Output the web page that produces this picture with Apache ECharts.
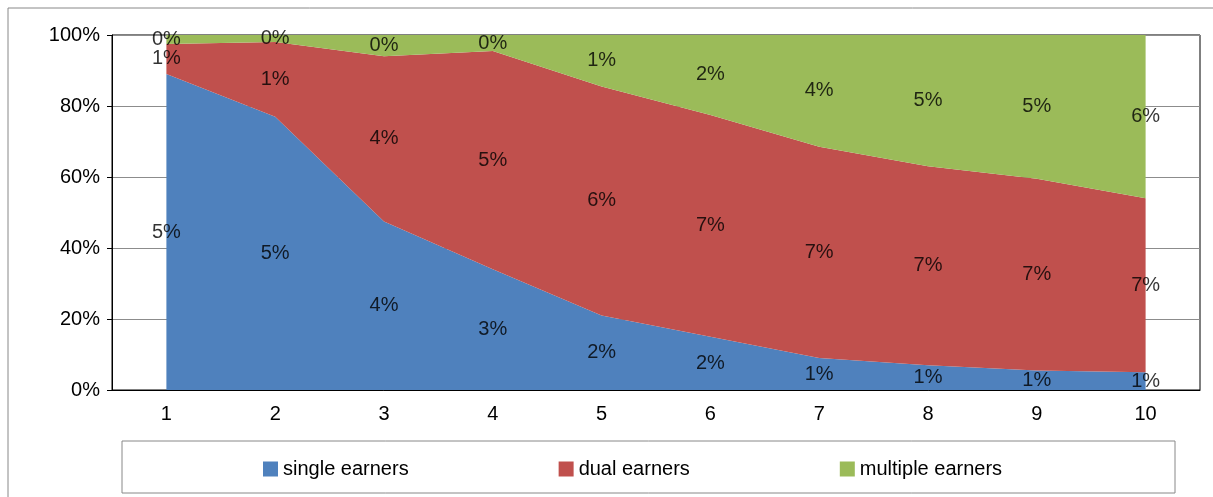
<!DOCTYPE html>
<html>
<head>
<meta charset="utf-8">
<script src="https://cdn.jsdelivr.net/npm/echarts@6/dist/echarts.min.js"></script>
<style>body{margin:0;background:#fff}</style>
</head>
<body>
<div id="main" style="width:1213px;height:497px"></div>
<script>
var categories = ['1','2','3','4','5','6','7','8','9','10'];
// shares of households (percent of 100% stack)
var single = [89, 77, 47.5, 34, 21, 15, 9, 7, 5.5, 5];
var dual = [8.5, 21, 46.5, 61.5, 64.5, 62.5, 59.5, 56, 54, 49];
var multiple = [2.5, 2, 6, 4.5, 14.5, 22.5, 31.5, 37, 40.5, 46];
// data label texts
var singleLbl = ['5%','5%','4%','3%','2%','2%','1%','1%','1%','1%'];
var dualLbl = ['1%','1%','4%','5%','6%','7%','7%','7%','7%','7%'];
var multiLbl = ['0%','0%','0%','0%','1%','2%','4%','5%','5%','6%'];

var font = 'Liberation Sans';
function mids(lower, vals) {
  return vals.map(function (v, i) { return lower[i] + v / 2; });
}
var zero = single.map(function () { return 0; });
var s1 = single;
var s2 = single.map(function (v, i) { return v + dual[i]; });
function lblSeries(name, pos, texts) {
  return {
    name: name, type: 'scatter', data: pos, symbolSize: 0, silent: true,
    label: { show: true, position: 'inside', color: '#000', fontSize: 20, fontFamily: font,
      formatter: function (p) { return texts[p.dataIndex]; } },
    z: 10
  };
}
var chart = echarts.init(document.getElementById('main'));
chart.setOption({
  animation: false,
  textStyle: { fontFamily: font },
  graphic: [{ type: 'rect', shape: { x: 8, y: 8, width: 1220, height: 500 },
    style: { fill: 'none', stroke: '#888', lineWidth: 1 } },
    { type: 'rect', shape: { x: 122, y: 441, width: 1053, height: 52 },
    style: { fill: 'none', stroke: '#888', lineWidth: 1 } }],
  grid: { left: 112, right: 13, top: 35, bottom: 107, show: true, borderColor: '#000', borderWidth: 1 },
  legend: {
    bottom: 13, left: 258, itemGap: 150, itemWidth: 15, itemHeight: 15, icon: 'rect',
    data: ['single earners', 'dual earners', 'multiple earners'],
    textStyle: { fontSize: 20, color: '#000', fontFamily: font }
  },
  xAxis: {
    type: 'category', data: categories, boundaryGap: true,
    axisLine: { lineStyle: { color: '#000' } },
    axisTick: { length: 7, lineStyle: { color: '#000' } },
    axisLabel: { fontSize: 20, color: '#000', margin: 14 }
  },
  yAxis: {
    type: 'value', min: 0, max: 100, interval: 20,
    axisLine: { show: true, lineStyle: { color: '#000' } },
    axisTick: { show: true, lineStyle: { color: '#000' } },
    axisLabel: { fontSize: 20, color: '#000', formatter: '{value}%', margin: 12 },
    splitLine: { lineStyle: { color: '#8c8c8c' } }
  },
  series: [
    { name: 'single earners', type: 'line', stack: 'a', data: single, symbol: 'none',
      lineStyle: { width: 0 }, areaStyle: { color: '#4F81BD', opacity: 1 }, itemStyle: { color: '#4F81BD' } },
    { name: 'dual earners', type: 'line', stack: 'a', data: dual, symbol: 'none',
      lineStyle: { width: 0 }, areaStyle: { color: '#C0504D', opacity: 1 }, itemStyle: { color: '#C0504D' } },
    { name: 'multiple earners', type: 'line', stack: 'a', data: multiple, symbol: 'none',
      lineStyle: { width: 0 }, areaStyle: { color: '#9BBB59', opacity: 1 }, itemStyle: { color: '#9BBB59' } },
    lblSeries('l1', mids(zero, single), singleLbl),
    lblSeries('l2', mids(s1, dual), dualLbl),
    lblSeries('l3', mids(s2, multiple), multiLbl)
  ]
});
</script>
</body>
</html>
